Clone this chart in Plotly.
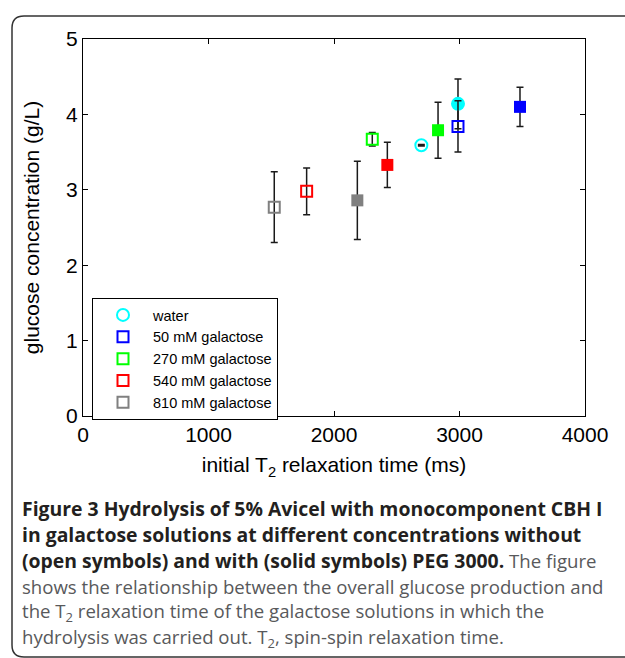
import plotly.graph_objects as go

# ---------------- data ----------------
series = ["water", "50 mM galactose", "270 mM galactose", "540 mM galactose", "810 mM galactose"]
colors = ["#00ffff", "#0000ff", "#00ff00", "#ff0000", "#808080"]
open_symbols = ["circle-open", "square-open", "square-open", "square-open", "square-open"]
solid_symbols = ["circle", "square", "square", "square", "square"]

# without PEG 3000 (open symbols)
open_t2 = [2696, 2988, 2305, 1782, 1524]
open_glc = [3.59, 3.84, 3.67, 2.98, 2.77]
open_err = [0.01, 0.34, 0.09, 0.31, 0.47]

# with PEG 3000 (solid symbols)
solid_t2 = [2988, 3482, 2829, 2425, 2186]
solid_glc = [4.14, 4.10, 3.79, 3.33, 2.86]
solid_err = [0.33, 0.26, 0.37, 0.30, 0.52]

x_ticks = [0, 1000, 2000, 3000, 4000]
y_ticks = [0, 1, 2, 3, 4, 5]

# ---------------- layout helpers (pixel -> paper) ----------------
W, H = 625, 658
L, R, T, B = 83, 40, 39, 242
PW, PH = W - L - R, H - T - B


def px(x):
    return (x - L) / PW


def py(y):
    return (H - B - y) / PH


fig = go.Figure()

err_color = "#1a1a1a"

for i in range(len(series)):
    fig.add_trace(go.Scatter(
        x=[solid_t2[i]], y=[solid_glc[i]], mode="markers",
        name=series[i] + " + PEG 3000", showlegend=False,
        marker=dict(symbol=solid_symbols[i], color=colors[i],
                    size=14 if solid_symbols[i] == "circle" else 12,
                    line=dict(width=0)),
        error_y=dict(type="data", array=[solid_err[i]], color=err_color,
                     thickness=1.5, width=3.5),
    ))

for i in range(len(series)):
    fig.add_trace(go.Scatter(
        x=[open_t2[i]], y=[open_glc[i]], mode="markers",
        name=series[i], showlegend=True,
        marker=dict(symbol=open_symbols[i], color=colors[i],
                    size=12 if open_symbols[i] == "circle-open" else 11,
                    line=dict(width=2, color=colors[i])),
        error_y=dict(type="data", array=[open_err[i]], color=err_color,
                     thickness=1.5, width=3.5),
    ))

axis_font = dict(family="Liberation Sans, Arial, sans-serif", size=21, color="black")

fig.update_xaxes(
    range=[0, 4000], tickvals=x_ticks, ticktext=[str(v) for v in x_ticks],
    ticks="inside", ticklen=5, tickcolor="black", showline=True, linecolor="black",
    linewidth=1, mirror="ticks", showgrid=False, zeroline=False,
    tickfont=axis_font,
    title=dict(text="initial T<sub>2</sub> relaxation time (ms)", font=axis_font, standoff=12),
)
fig.update_yaxes(
    range=[0, 5], tickvals=y_ticks, ticktext=[str(v) for v in y_ticks],
    ticks="inside", ticklen=5, tickcolor="black", showline=True, linecolor="black",
    linewidth=1, mirror="ticks", showgrid=False, zeroline=False,
    tickfont=axis_font,
    title=dict(text="glucose concentration (g/L)", font=axis_font, standoff=20),
)

# frame with rounded corners around figure panel
r = 12
fx0, fy0, fx1, fy1 = 12, 16, 660, 657
path = (f"M {px(fx1)},{py(fy1)} L {px(fx0 + r)},{py(fy1)} "
        f"Q {px(fx0)},{py(fy1)} {px(fx0)},{py(fy1 - r)} "
        f"L {px(fx0)},{py(fy0 + r)} "
        f"Q {px(fx0)},{py(fy0)} {px(fx0 + r)},{py(fy0)} "
        f"L {px(fx1)},{py(fy0)}")
fig.add_shape(type="path", path=path, xref="paper", yref="paper",
              line=dict(color="#333333", width=1.5), layer="below")

# caption
bold_c = "#231f20"
reg_c = "#58595b"
cap_font = dict(family="Open Sans, sans-serif", size=18.6, color=reg_c)
bs = f"<span style='color:{bold_c};font-size:19.4px'><b>"
be = "</b></span>"
caption_lines = [
    bs + "Figure 3 Hydrolysis of 5% Avicel with monocomponent CBH I" + be,
    bs + "in galactose solutions at different concentrations without" + be,
    bs + "(open symbols) and with (solid symbols) PEG 3000." + be + " The figure",
    "shows the relationship between the overall glucose production and",
    "the T<sub>2</sub> relaxation time of the galactose solutions in which the",
    "hydrolysis was carried out. T<sub>2</sub>, spin-spin relaxation time.",
]
for k, line in enumerate(caption_lines):
    fig.add_annotation(text=line, x=px(20), y=py(508 + 26 * k), xref="paper", yref="paper",
                       xanchor="left", yanchor="middle", showarrow=False, font=cap_font,
                       align="left")

fig.update_layout(
    width=W, height=H,
    margin=dict(l=L, r=R, t=T, b=B),
    paper_bgcolor="white", plot_bgcolor="white",
    showlegend=True,
    legend=dict(x=px(92), y=py(298), xanchor="left", yanchor="top",
                bgcolor="white", bordercolor="black", borderwidth=1,
                font=dict(family="Liberation Sans, Arial, sans-serif", size=14.5, color="black"),
                itemwidth=50, tracegroupgap=0),
)

fig.write_html("out.html", config={"displayModeBar": False},
               post_script="document.body.style.margin='0px';document.body.style.overflow='hidden';")
